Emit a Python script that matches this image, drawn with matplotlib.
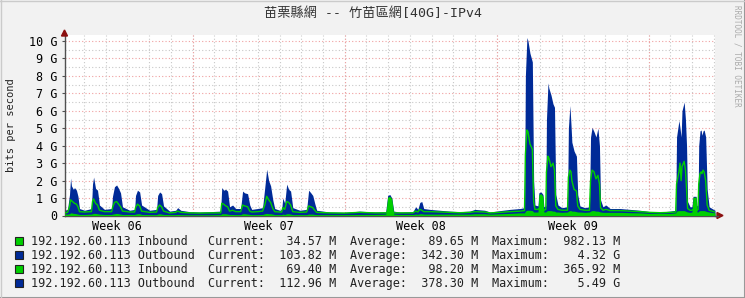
import matplotlib
matplotlib.use('Agg')
import matplotlib.pyplot as plt
from matplotlib.patches import Rectangle, Polygon
import numpy as np

# time in days from graph start, traffic in Gbit/s
days = [0.00, 0.14, 0.23, 0.28, 0.32, 0.41, 0.46, 0.55, 0.62, 0.69, 0.92, 1.24, 1.29, 1.34, 1.43, 1.52,
        1.61, 1.84, 2.17, 2.21, 2.30, 2.40, 2.49, 2.58, 2.67, 3.00, 3.23, 3.27, 3.36, 3.46, 3.55, 3.92,
        4.24, 4.29, 4.38, 4.47, 4.56, 4.84, 5.12, 5.21, 5.35, 5.76, 6.22, 6.68, 7.19, 7.24, 7.33, 7.42,
        7.51, 7.60, 7.74, 7.88, 8.11, 8.20, 8.29, 8.43, 8.53, 8.62, 8.89, 9.12, 9.22, 9.31, 9.40, 9.49,
        9.59, 9.68, 9.91, 10.00, 10.05, 10.14, 10.23, 10.32, 10.41, 10.51, 10.83, 11.15, 11.24, 11.34,
        11.43, 11.52, 11.61, 12.21, 12.90, 13.59, 14.29, 14.79, 14.88, 14.98, 15.07, 15.16, 15.44, 16.04,
        16.17, 16.27, 16.36, 16.45, 16.54, 16.82, 17.28, 17.74, 18.20, 18.66, 18.89, 19.35, 19.59, 20.05,
        20.51, 20.97, 21.18, 21.22, 21.29, 21.34, 21.43, 21.54, 21.60, 21.66, 21.80, 21.84, 21.94, 22.03,
        22.07, 22.16, 22.19, 22.26, 22.30, 22.40, 22.49, 22.56, 22.62, 22.72, 22.90, 23.16, 23.20, 23.27,
        23.32, 23.36, 23.46, 23.57, 23.63, 23.73, 23.96, 24.17, 24.22, 24.29, 24.38, 24.47, 24.56, 24.63,
        24.68, 24.79, 24.93, 25.12, 25.58, 26.04, 26.50, 26.96, 27.42, 27.88, 28.14, 28.18, 28.29, 28.34,
        28.39, 28.43, 28.53, 28.59, 28.64, 28.69, 28.80, 28.89, 28.94, 29.08, 29.12, 29.17, 29.20, 29.26,
        29.31, 29.35, 29.40, 29.45, 29.52, 29.59, 29.68, 29.95]

outbound = [0.30, 0.35, 1.20, 2.15, 1.70, 1.50, 1.60, 1.45, 1.10, 0.40, 0.30, 0.40, 1.80, 2.20, 1.55, 1.45,
            0.60, 0.35, 0.40, 1.10, 1.65, 1.75, 1.55, 1.30, 0.50, 0.30, 0.35, 1.15, 1.45, 1.35, 0.60, 0.30,
            0.35, 1.15, 1.35, 1.25, 0.55, 0.25, 0.30, 0.45, 0.30, 0.22, 0.20, 0.22, 0.25, 1.60, 1.45, 1.50,
            1.40, 0.50, 0.60, 0.40, 0.40, 1.40, 1.30, 1.25, 0.60, 0.35, 0.40, 0.45, 1.60, 2.65, 2.00, 1.70,
            0.90, 0.40, 0.30, 0.35, 1.00, 0.70, 1.80, 1.50, 1.40, 0.45, 0.30, 0.35, 1.45, 1.30,
            1.15, 0.70, 0.30, 0.20, 0.18, 0.25, 0.20, 0.22, 1.15, 1.20, 1.00, 0.25, 0.20, 0.22,
            0.50, 0.35, 0.75, 0.80, 0.40, 0.35, 0.30, 0.25, 0.22, 0.25, 0.35, 0.30, 0.20, 0.28,
            0.35, 0.40, 0.45, 8.00, 10.20, 10.00, 9.30, 8.80, 2.00, 0.60, 0.55, 1.30, 1.35, 1.20,
            0.50, 0.55, 5.50, 7.60, 7.30, 6.90, 6.40, 6.20, 1.20, 0.60, 0.45, 0.50, 5.00, 6.30,
            5.20, 4.20, 3.70, 3.40, 1.20, 0.55, 0.45, 0.50, 4.50, 5.05, 4.80, 4.50, 5.00, 4.00,
            0.90, 0.50, 0.60, 0.40, 0.40, 0.35, 0.30, 0.22, 0.20, 0.25, 0.30, 4.50, 5.45, 5.00,
            4.50, 6.00, 6.50, 5.50, 4.00, 0.80, 0.50, 0.50, 1.10, 1.10, 0.55, 0.60, 4.00, 4.85,
            4.90, 4.60, 4.85, 4.90, 4.50, 1.50, 0.50, 0.30]

inbound_line = [0.15, 0.18, 0.50, 0.90, 0.85, 0.75, 0.70, 0.65, 0.50, 0.22, 0.20, 0.22, 0.80, 0.95, 0.70, 0.60,
                0.30, 0.22, 0.22, 0.45, 0.75, 0.80, 0.65, 0.50, 0.25, 0.20, 0.20, 0.45, 0.65, 0.55, 0.25, 0.18,
                0.20, 0.45, 0.60, 0.50, 0.25, 0.15, 0.18, 0.25, 0.18, 0.15, 0.14, 0.15, 0.15, 0.70, 0.65, 0.55,
                0.50, 0.25, 0.30, 0.22, 0.22, 0.60, 0.55, 0.50, 0.25, 0.20, 0.22, 0.25, 0.60, 1.10, 0.90, 0.75,
                0.40, 0.22, 0.20, 0.20, 0.45, 0.35, 0.80, 0.75, 0.60, 0.22, 0.18, 0.20, 0.55, 0.50,
                0.45, 0.30, 0.18, 0.15, 0.14, 0.18, 0.15, 0.15, 0.20, 0.20, 0.20, 0.15, 0.15, 0.15,
                0.25, 0.20, 0.35, 0.30, 0.22, 0.22, 0.20, 0.18, 0.16, 0.18, 0.22, 0.20, 0.15, 0.18,
                0.22, 0.25, 0.28, 3.50, 4.90, 4.80, 4.10, 3.80, 0.80, 0.35, 0.35, 0.40, 0.40, 0.40,
                0.30, 0.35, 2.50, 3.40, 3.30, 2.80, 3.00, 2.60, 0.55, 0.35, 0.30, 0.30, 2.20, 2.60,
                2.50, 2.00, 1.50, 1.40, 0.55, 0.35, 0.30, 0.30, 2.00, 2.60, 2.50, 2.10, 2.30, 1.80,
                0.45, 0.30, 0.35, 0.28, 0.28, 0.25, 0.22, 0.18, 0.16, 0.18, 0.20, 1.80, 2.50, 3.00,
                2.00, 2.80, 3.10, 2.60, 1.50, 0.40, 0.30, 0.30, 0.35, 0.35, 0.30, 0.35, 1.80, 2.40,
                2.50, 2.40, 2.60, 2.50, 2.00, 0.60, 0.30, 0.20]

inbound_fill = [0.08, 0.08, 0.10, 0.15, 0.15, 0.12, 0.12, 0.10, 0.08, 0.06, 0.06, 0.08, 0.10, 0.12, 0.12, 0.10,
                0.08, 0.06, 0.06, 0.08, 0.10, 0.12, 0.10, 0.08, 0.06, 0.06, 0.06, 0.08, 0.10, 0.10, 0.06, 0.05,
                0.05, 0.08, 0.10, 0.08, 0.06, 0.05, 0.05, 0.06, 0.05, 0.04, 0.04, 0.04, 0.05, 0.10, 0.10, 0.10,
                0.08, 0.06, 0.06, 0.05, 0.05, 0.10, 0.10, 0.08, 0.06, 0.05, 0.05, 0.06, 0.10, 0.12, 0.10, 0.10,
                0.08, 0.05, 0.05, 0.05, 0.08, 0.06, 0.10, 0.10, 0.08, 0.05, 0.05, 0.05, 0.08, 0.08,
                0.08, 0.06, 0.05, 0.05, 0.05, 0.06, 0.06, 0.08, 1.05, 1.10, 0.95, 0.08, 0.06, 0.06,
                0.08, 0.07, 0.10, 0.10, 0.08, 0.08, 0.08, 0.08, 0.08, 0.08, 0.10, 0.10, 0.08, 0.10,
                0.12, 0.15, 0.15, 0.25, 0.30, 0.30, 0.30, 0.28, 0.20, 0.20, 0.20, 1.20, 1.25, 1.10,
                0.20, 0.20, 0.25, 0.28, 0.28, 0.28, 0.25, 0.25, 0.20, 0.20, 0.18, 0.20, 0.25, 0.28,
                0.28, 0.25, 0.25, 0.22, 0.20, 0.20, 0.18, 0.20, 0.25, 0.28, 0.28, 0.25, 0.25, 0.22,
                0.20, 0.18, 0.18, 0.18, 0.18, 0.16, 0.15, 0.12, 0.12, 0.12, 0.15, 0.25, 0.28, 0.28,
                0.28, 0.28, 0.28, 0.25, 0.22, 0.20, 0.18, 0.20, 1.05, 1.05, 0.20, 0.20, 0.25, 0.28,
                0.28, 0.28, 0.28, 0.28, 0.25, 0.22, 0.20, 0.15]

y_ticks = [0, 1, 2, 3, 4, 5, 6, 7, 8, 9, 10]
y_labels = ['0', '1 G', '2 G', '3 G', '4 G', '5 G', '6 G', '7 G', '8 G', '9 G', '10 G']
week_starts = [5.9, 12.9, 19.9, 26.9]
week_labels = ['Week 06', 'Week 07', 'Week 08', 'Week 09']

legend_names = ['192.192.60.113 Inbound', '192.192.60.113 Outbound',
                '192.192.60.113 Inbound', '192.192.60.113 Outbound']
legend_colors = ['#00CF00', '#002A97', '#00CF00', '#002A97']
cur_vals = [34.57, 103.82, 69.40, 112.96]
cur_units = ['M', 'M', 'M', 'M']
avg_vals = [89.65, 342.30, 98.20, 378.30]
avg_units = ['M', 'M', 'M', 'M']
max_vals = [982.13, 4.32, 365.92, 5.49]
max_units = ['M', 'G', 'M', 'G']

title = '苗栗縣網 -- 竹苗區網[40G]-IPv4'

W, H = 745, 298
mono = ['DejaVu Sans Mono', 'Noto Sans CJK TC']
plt.rcParams['font.family'] = mono

fig = plt.figure(figsize=(W / 100, H / 100), dpi=100, facecolor='#F2F2F2')

def fx(px):
    return px / W

def fy(py):
    return 1 - py / H

x0, x1 = 64.5, 715
ytop, ybot = 35, 215.5
ax = fig.add_axes([fx(x0), fy(ybot), fx(x1) - fx(x0), fy(ytop) - fy(ybot)])
ax.set_facecolor('white')
ax.set_xlim(0, 29.95)
ax.set_ylim(0, (ybot - ytop) / 17.45)

# grid: minor every 0.5 G / every day, major every 1 G / every week
for v in np.arange(0.5, 10.5, 1.0):
    ax.axhline(v, color='#C8C8C8', lw=0.8, ls=(0, (1, 2)), zorder=1)
for v in y_ticks[1:]:
    ax.axhline(v, color='#F0A0A0', lw=0.8, ls=(0, (1, 2)), zorder=1)
for d in np.arange(week_starts[0] - 5, 29.95, 1.0):
    ax.axvline(d, color='#C8C8C8', lw=0.8, ls=(0, (1, 2)), zorder=1)
for ws in week_starts:
    ax.axvline(ws, color='#F0A0A0', lw=0.8, ls=(0, (1, 2)), zorder=1)

ax.fill_between(days, 0, outbound, color='#002A97', lw=0, zorder=2)
ax.fill_between(days, 0, inbound_fill, color='#00CF00', lw=0, zorder=3)
ax.plot(days, inbound_line, color='#00CF00', lw=1, zorder=4)

for s in ['top', 'right']:
    ax.spines[s].set_visible(False)
for s in ['left', 'bottom']:
    ax.spines[s].set_color('#505050')
    ax.spines[s].set_linewidth(1)

ax.set_yticks(y_ticks)
ax.set_yticklabels(y_labels)
ax.set_xticks([ws - 3.5 for ws in week_starts])
ax.set_xticklabels(week_labels)
ax.tick_params(axis='y', length=2, width=0.8, color='#505050', labelsize=8.5, pad=3)
ax.tick_params(axis='x', length=0, labelsize=8.5, pad=3)

# axis arrows
fig.patches.append(Polygon([[fx(x0 - 3), fy(36)], [fx(x0 + 3), fy(36)], [fx(x0), fy(30)]],
                           closed=True, color='#8B1010', transform=fig.transFigure))
fig.add_artist(plt.Line2D([fx(x1), fx(718)], [fy(ybot), fy(ybot)], color='#505050', lw=1))
fig.patches.append(Polygon([[fx(717), fy(ybot - 3)], [fx(717), fy(ybot + 3)], [fx(723), fy(ybot)]],
                           closed=True, color='#8B1010', transform=fig.transFigure))

fig.text(fx(373), fy(14), title, ha='center', va='center', fontsize=9.5, color='#333333', family=mono)
fig.text(fx(11), fy(125), 'bits per second', rotation=90, ha='center', va='center',
         fontsize=7.5, color='#222222')
fig.text(fx(737), fy(5), 'RRDTOOL / TOBI OETIKER', rotation=270, ha='center', va='top',
         fontsize=5.5, color='#AAAAAA')

# legend, one text per column, shared baseline
rows_y = [241, 255, 269, 283]
for i, yy in enumerate(rows_y):
    fig.patches.append(Rectangle((fx(14.5), fy(yy + 4)), 8 / W, 8 / H, transform=fig.transFigure,
                                 facecolor=legend_colors[i], edgecolor='#222222', lw=0.8))
    cols = [(31, legend_names[i]),
            (208, 'Current:{:>8.2f} {}'.format(cur_vals[i], cur_units[i])),
            (350, 'Average:{:>8.2f} {}'.format(avg_vals[i], avg_units[i])),
            (492, 'Maximum:{:>8.2f} {}'.format(max_vals[i], max_units[i]))]
    for cx, txt in cols:
        fig.text(fx(cx), fy(yy + 4), txt, ha='left', va='baseline', fontsize=8.5, color='#222222')

# frame shading
fig.add_artist(plt.Line2D([0, 1], [fy(297.5), fy(297.5)], color='#999999', lw=1.5))
fig.add_artist(plt.Line2D([fx(744.5), fx(744.5)], [0, 1], color='#999999', lw=1.5))
fig.add_artist(plt.Line2D([0, 1], [fy(0.5), fy(0.5)], color='#CBCBCB', lw=1))
fig.add_artist(plt.Line2D([fx(0.5), fx(0.5)], [0, 1], color='#CBCBCB', lw=1))

fig.savefig('out.png', dpi=100, facecolor=fig.get_facecolor())
